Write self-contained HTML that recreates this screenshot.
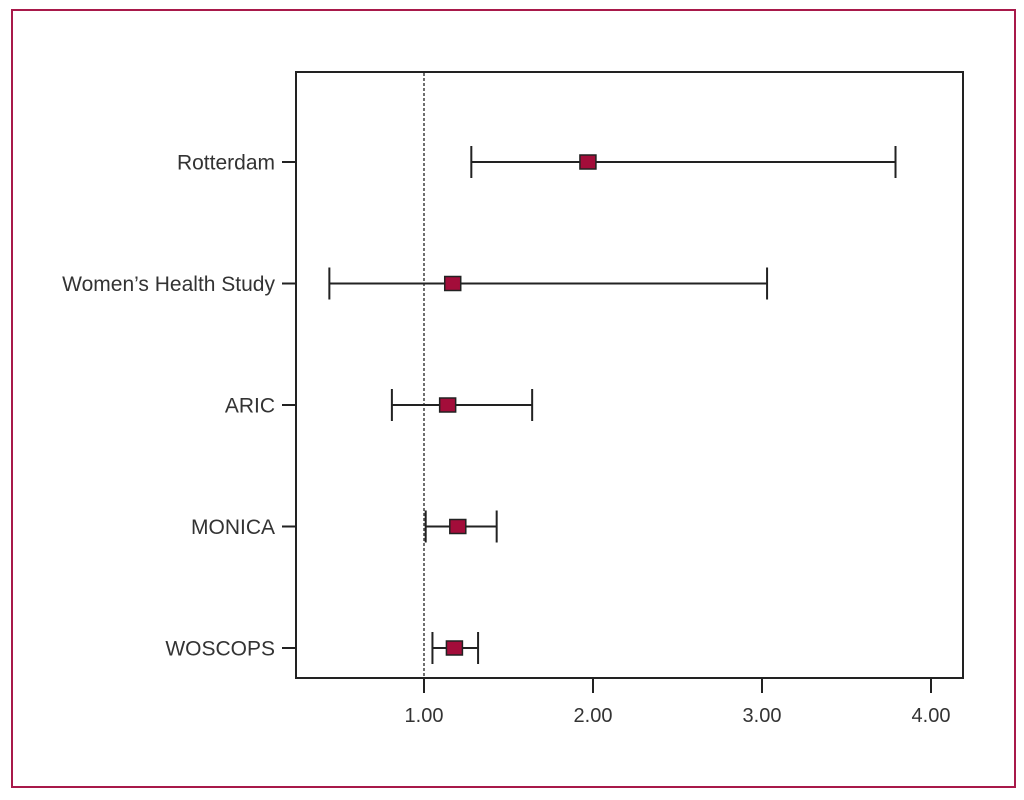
<!DOCTYPE html>
<html><head><meta charset="utf-8"><style>
body{margin:0;background:#fff;}
svg{display:block;font-family:"Liberation Sans",sans-serif;}
</style></head><body>
<svg width="1024" height="800">
<rect x="12" y="10" width="1003" height="777" fill="none" stroke="#a8194a" stroke-width="2"/>
<rect x="296" y="72" width="667" height="606" fill="none" stroke="#222" stroke-width="2"/>
<g id="g"></g>
</svg>
<script>
const studies=["Rotterdam","Women\u2019s Health Study","ARIC","MONICA","WOSCOPS"];
const estimates=[1.97,1.17,1.14,1.20,1.18];
const lowerCI=[1.28,0.44,0.81,1.01,1.05];
const upperCI=[3.79,3.03,1.64,1.43,1.32];
const ticks=[1,2,3,4];
const tickLabels=["1.00","2.00","3.00","4.00"];
const X=v=>255+169*v;
const Y=i=>162+121.5*i;
const g=document.getElementById('g');
const NS="http://www.w3.org/2000/svg";
function mk(t,a){const e=document.createElementNS(NS,t);for(const k in a)e.setAttribute(k,a[k]);g.appendChild(e);return e;}
let e=mk('line',{x1:X(1),x2:X(1),y1:73,y2:677,stroke:'#222','stroke-width':1.3,'stroke-dasharray':'3,2'});


ticks.forEach((t,i)=>{
 let l=mk('line',{x1:X(t),x2:X(t),y1:678,y2:693,stroke:'#222','stroke-width':2});
 
 
 let tx=mk('text',{x:X(t),y:722,'text-anchor':'middle','font-size':20,fill:'#333'});
 tx.textContent=tickLabels[i];
 
 
});
studies.forEach((s,i)=>{
 const y=Y(i);
 let l=mk('line',{x1:282,x2:296,y1:y,y2:y,stroke:'#222','stroke-width':2});
 
 
 let tx=mk('text',{x:275,y:y+7.5,'text-anchor':'end','font-size':21,fill:'#333'});
 tx.textContent=s;
 
 
 let ci=mk('path',{d:`M${X(lowerCI[i])},${y}H${X(upperCI[i])}M${X(lowerCI[i])},${y-16}V${y+16}M${X(upperCI[i])},${y-16}V${y+16}`,stroke:'#222','stroke-width':2,fill:'none'});
 
 
 let r=mk('rect',{x:X(estimates[i])-8,y:y-7,width:16,height:14,fill:'#a30d3a',stroke:'#222','stroke-width':1.5});
 
 
});
</script>
</body></html>
